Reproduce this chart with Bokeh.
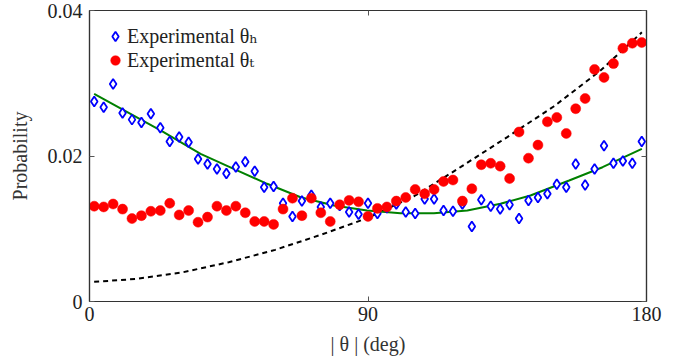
from bokeh.plotting import figure
from bokeh.models import Range1d, FixedTicker, LinearAxis, Legend, LegendItem
from bokeh.embed import file_html
from bokeh.resources import INLINE

# ---- data ----
angles = [1.53, 4.58, 7.63, 10.68, 13.73, 16.78, 19.83, 22.88, 25.93, 28.98,
          32.03, 35.08, 38.14, 41.19, 44.24, 47.29, 50.34, 53.39, 56.44, 59.49,
          62.54, 65.59, 68.64, 71.69, 74.75, 77.80, 80.85, 83.90, 86.95, 90.00,
          93.05, 96.10, 99.15, 102.20, 105.25, 108.31, 111.36, 114.41, 117.46, 120.51,
          123.56, 126.61, 129.66, 132.71, 135.76, 138.81, 141.86, 144.92, 147.97, 151.02,
          154.07, 157.12, 160.17, 163.22, 166.27, 169.32, 172.37, 175.42, 178.47]

theta_h = [0.0275, 0.0267, 0.0299, 0.0259, 0.0250, 0.0246, 0.0258, 0.0239, 0.0220, 0.0226,
           0.0219, 0.0196, 0.0189, 0.0182, 0.0176, 0.0185, 0.0192, 0.0179, 0.0157, 0.0158,
           0.0135, 0.0117, 0.0138, 0.0146, 0.0130, 0.0135, 0.0132, 0.0123, 0.0120, 0.0135,
           0.0121, 0.0129, 0.0134, 0.0123, 0.0121, 0.0141, 0.0141, 0.0125, 0.0124, 0.0134,
           0.0103, 0.0140, 0.0131, 0.0127, 0.0133, 0.0114, 0.0139, 0.0143, 0.0148, 0.0161,
           0.0157, 0.0189, 0.0160, 0.0182, 0.0214, 0.0190, 0.0193, 0.0190, 0.0220]

theta_t = [0.0131, 0.0130, 0.0134, 0.0127, 0.0114, 0.0118, 0.0124, 0.0125, 0.0135, 0.0119,
           0.0125, 0.0109, 0.0116, 0.0131, 0.0125, 0.0131, 0.0122, 0.0110, 0.0110, 0.0106,
           0.0127, 0.0142, 0.0118, 0.0142, 0.0122, 0.0110, 0.0133, 0.0139, 0.0137, 0.0117,
           0.0128, 0.0130, 0.0138, 0.0143, 0.0154, 0.0148, 0.0154, 0.0165, 0.0167, 0.0138,
           0.0155, 0.0188, 0.0190, 0.0186, 0.0169, 0.0233, 0.0197, 0.0215, 0.0247, 0.0253,
           0.0231, 0.0265, 0.0279, 0.0319, 0.0308, 0.0327, 0.0348, 0.0355, 0.0356]

fit_angles = [1.5, 23.4, 35.9, 46.6, 57.4, 68.2, 79.0, 89.7, 100.5, 111.3,
              122.1, 132.8, 142.5, 155.0, 165.8, 178.5]
fit_h = [0.02855, 0.02341, 0.0203, 0.01824, 0.01618, 0.01433, 0.0132, 0.01251, 0.01214, 0.01214,
         0.01251, 0.01343, 0.01457, 0.01663, 0.01846, 0.02099]

theory_angles = [1.5, 15, 30, 45, 60, 75, 90, 105, 120, 135, 150, 165, 178.5]
theory = [0.0027, 0.0031, 0.0040, 0.0054, 0.0071, 0.0092, 0.0115, 0.0145, 0.0185,
          0.0226, 0.0268, 0.0317, 0.0370]

x_ticks = [0, 90, 180]
y_ticks = [0, 0.02, 0.04]
y_tick_labels = ["0", "0.02", "0.04"]

FONT = "'Liberation Serif', 'DejaVu Serif', serif"
TXT = "#222222"

p = figure(width=674, height=362, output_backend="svg", toolbar_location=None,
           x_range=Range1d(0, 180), y_range=Range1d(0, 0.04),
           min_border_left=89, min_border_right=28, min_border_top=10, min_border_bottom=61,
           x_axis_label="| θ | (deg)", y_axis_label="Probability")
p.grid.visible = False
p.outline_line_color = "#333333"
p.outline_line_width = 1.2
p.background_fill_color = "white"
p.border_fill_color = "white"

for ax in p.xaxis:
    ax.ticker = FixedTicker(ticks=x_ticks)
for ax in p.yaxis:
    ax.ticker = FixedTicker(ticks=y_ticks)
    ax.major_label_overrides = {t: l for t, l in zip(y_ticks, y_tick_labels)}

for ax in list(p.xaxis) + list(p.yaxis):
    ax.major_tick_in = 5
    ax.major_tick_out = 0
    ax.minor_tick_in = 0
    ax.minor_tick_out = 0
    ax.axis_line_color = "#333333"
    ax.axis_line_width = 1.2
    ax.major_tick_line_color = "#555555"
    ax.major_label_text_font = FONT
    ax.major_label_text_font_size = "20px"
    ax.major_label_text_color = TXT
    ax.axis_label_text_font = FONT
    ax.axis_label_text_font_size = "20px"
    ax.axis_label_text_font_style = "normal"
    ax.axis_label_text_color = "#333333"

p.xaxis.major_label_standoff = 5
p.xaxis.axis_label_standoff = 9
p.yaxis.major_label_standoff = 7
p.yaxis.axis_label_standoff = 14

# mirrored inward ticks on top and right
top = LinearAxis(ticker=FixedTicker(ticks=x_ticks),
                 major_label_overrides={t: "" for t in x_ticks})
right = LinearAxis(ticker=FixedTicker(ticks=y_ticks),
                   major_label_overrides={t: "" for t in y_ticks})
for ax in (top, right):
    ax.major_tick_in = 5
    ax.major_tick_out = 0
    ax.minor_tick_in = 0
    ax.minor_tick_out = 0
    ax.axis_line_color = "#333333"
    ax.axis_line_width = 1.2
    ax.major_tick_line_color = "#555555"
    ax.major_label_standoff = 0
    ax.major_label_text_font_size = "1px"
p.add_layout(top, "above")
p.add_layout(right, "right")

# curves
p.line(theory_angles, theory, line_color="black", line_width=2, line_dash="5 4")
p.line(fit_angles, fit_h, line_color="#008000", line_width=2)

# experimental points
r_h = p.scatter(angles, theta_h, marker="diamond", size=10, line_color="#0000FF",
                line_width=1.8, fill_color="white")
r_t = p.scatter(angles, theta_t, marker="circle", size=10, line_color="#FF0000",
                fill_color="#FF0000", line_width=0.5)

legend = Legend(items=[LegendItem(label="Experimental θₕ", renderers=[r_h]),
                       LegendItem(label="Experimental θₜ", renderers=[r_t])],
                location=(14, 229), border_line_color=None, background_fill_alpha=0,
                padding=0, margin=0, spacing=-2, glyph_width=24, glyph_height=24,
                label_height=24, label_standoff=-5,
                label_text_font=FONT, label_text_font_size="20px", label_text_color=TXT)
p.add_layout(legend)

open("out.html", "w").write(file_html(p, INLINE))
